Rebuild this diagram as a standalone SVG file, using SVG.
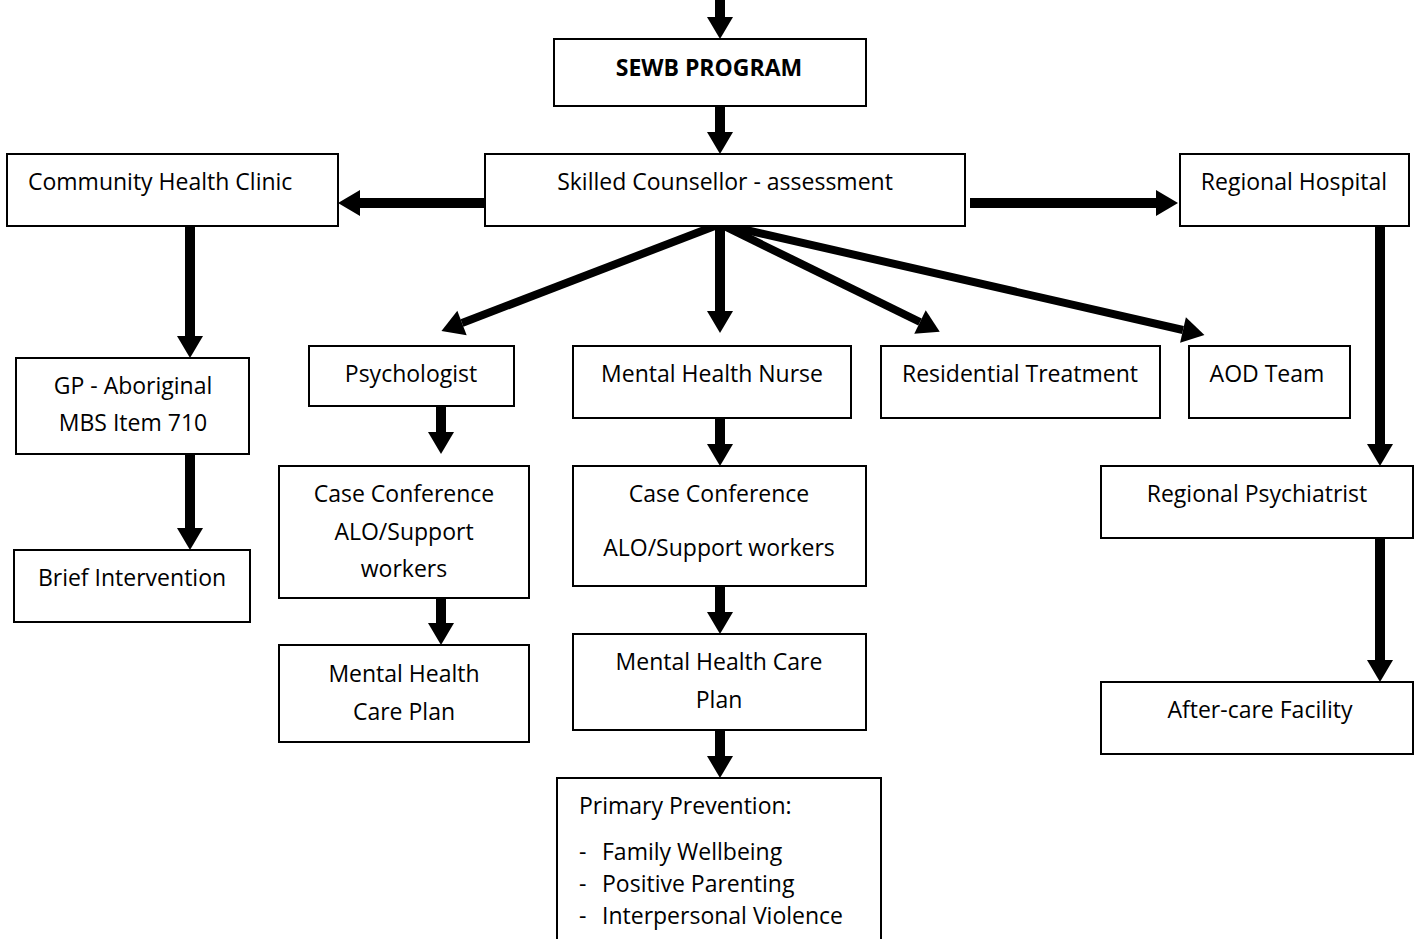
<svg xmlns="http://www.w3.org/2000/svg" width="1424" height="939" viewBox="0 0 1424 939">
<style>
.box{fill:#fff;stroke:#000;stroke-width:2}
.t{font-family:"Open Sans","Liberation Sans",sans-serif;font-size:23px;fill:#000}
.c{text-anchor:middle}
.b{font-weight:bold}
.v{stroke:#000;stroke-width:10;fill:none}
.d{stroke:#000;stroke-width:8;fill:none}
</style>
<defs>
<marker id="ah" markerUnits="userSpaceOnUse" markerWidth="24" markerHeight="26" refX="0" refY="13" orient="auto" overflow="visible">
<path d="M0,0 L22,13 L0,26 Z" fill="#000"/>
</marker>
</defs>
<rect width="1424" height="939" fill="#fff"/>
<g id="connectors">
<line class="v" x1="720" y1="0" x2="720" y2="17" marker-end="url(#ah)"/>
<line class="v" x1="720" y1="106" x2="720" y2="132" marker-end="url(#ah)"/>
<line class="v" x1="485" y1="203" x2="360" y2="203" marker-end="url(#ah)"/>
<line class="v" x1="970" y1="203" x2="1156" y2="203" marker-end="url(#ah)"/>
<line class="v" x1="190" y1="226" x2="190" y2="336" marker-end="url(#ah)"/>
<line class="v" x1="190" y1="454" x2="190" y2="528" marker-end="url(#ah)"/>
<line class="d" x1="720" y1="224" x2="462" y2="323" marker-end="url(#ah)"/>
<line class="v" x1="720" y1="224" x2="720" y2="311" marker-end="url(#ah)"/>
<line class="d" x1="720" y1="224" x2="920" y2="322" marker-end="url(#ah)"/>
<line class="d" x1="720" y1="224" x2="1183" y2="330" marker-end="url(#ah)"/>
<line class="v" x1="441" y1="406" x2="441" y2="432" marker-end="url(#ah)"/>
<line class="v" x1="441" y1="598" x2="441" y2="623" marker-end="url(#ah)"/>
<line class="v" x1="720" y1="418" x2="720" y2="444" marker-end="url(#ah)"/>
<line class="v" x1="720" y1="586" x2="720" y2="612" marker-end="url(#ah)"/>
<line class="v" x1="720" y1="730" x2="720" y2="756" marker-end="url(#ah)"/>
<line class="v" x1="1380" y1="226" x2="1380" y2="444" marker-end="url(#ah)"/>
<line class="v" x1="1380" y1="538" x2="1380" y2="660" marker-end="url(#ah)"/>
</g>
<g id="sewb"><rect class="box" x="554" y="39" width="312" height="67"/><text class="t c b" x="709" y="76">SEWB PROGRAM</text></g>
<g id="skilled"><rect class="box" x="485" y="154" width="480" height="72"/><text class="t c" x="725" y="190">Skilled Counsellor - assessment</text></g>
<g id="chc"><rect class="box" x="7" y="154" width="331" height="72"/><text class="t" x="28" y="190">Community Health Clinic</text></g>
<g id="rh"><rect class="box" x="1180" y="154" width="229" height="72"/><text class="t c" x="1294" y="190">Regional Hospital</text></g>
<g id="gp"><rect class="box" x="16" y="358" width="233" height="96"/><text class="t c" x="133" y="394">GP - Aboriginal</text><text class="t c" x="133" y="431">MBS Item 710</text></g>
<g id="brief"><rect class="box" x="14" y="550" width="236" height="72"/><text class="t c" x="132" y="586">Brief Intervention</text></g>
<g id="psych"><rect class="box" x="309" y="346" width="205" height="60"/><text class="t c" x="411" y="382">Psychologist</text></g>
<g id="cc1"><rect class="box" x="279" y="466" width="250" height="132"/><text class="t c" x="404" y="502">Case Conference</text><text class="t c" x="404" y="540">ALO/Support</text><text class="t c" x="404" y="577">workers</text></g>
<g id="mhcp1"><rect class="box" x="279" y="645" width="250" height="97"/><text class="t c" x="404" y="682">Mental Health</text><text class="t c" x="404" y="720">Care Plan</text></g>
<g id="mhn"><rect class="box" x="573" y="346" width="278" height="72"/><text class="t c" x="712" y="382">Mental Health Nurse</text></g>
<g id="cc2"><rect class="box" x="573" y="466" width="293" height="120"/><text class="t c" x="719" y="502">Case Conference</text><text class="t c" x="719" y="556">ALO/Support workers</text></g>
<g id="mhcp2"><rect class="box" x="573" y="634" width="293" height="96"/><text class="t c" x="719" y="670">Mental Health Care</text><text class="t c" x="719" y="708">Plan</text></g>
<g id="pp"><rect class="box" x="557" y="778" width="324" height="170"/><text class="t" x="579" y="814">Primary Prevention:</text><text class="t" x="579" y="860">-</text><text class="t" x="602" y="860">Family Wellbeing</text><text class="t" x="579" y="892">-</text><text class="t" x="602" y="892">Positive Parenting</text><text class="t" x="579" y="924">-</text><text class="t" x="602" y="924">Interpersonal Violence</text></g>
<g id="rt"><rect class="box" x="881" y="346" width="279" height="72"/><text class="t c" x="1020" y="382">Residential Treatment</text></g>
<g id="aod"><rect class="box" x="1189" y="346" width="161" height="72"/><text class="t c" x="1267" y="382">AOD Team</text></g>
<g id="rp"><rect class="box" x="1101" y="466" width="312" height="72"/><text class="t c" x="1257" y="502">Regional Psychiatrist</text></g>
<g id="acf"><rect class="box" x="1101" y="682" width="312" height="72"/><text class="t c" x="1260" y="718">After-care Facility</text></g>
</svg>
